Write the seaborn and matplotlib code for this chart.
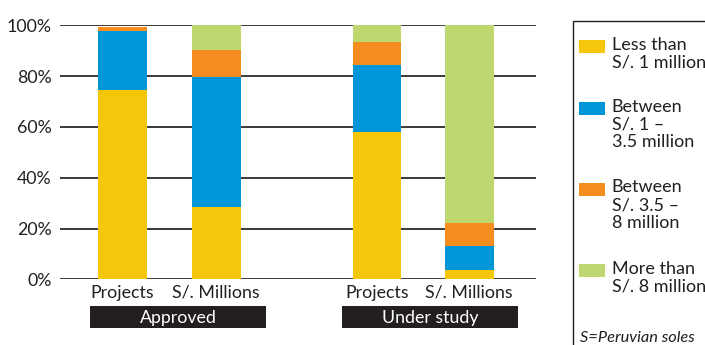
import numpy as np
import pandas as pd
import matplotlib
matplotlib.use("Agg")
import matplotlib.pyplot as plt
from matplotlib.patches import Rectangle
import seaborn as sns

# Share of each size band (percent), per bar
bar_labels = ["Projects", "S/. Millions", "Projects", "S/. Millions"]
group_labels = ["Approved", "Under study"]
less_1m = [74.5, 28.5, 58.0, 3.7]
between_1_35m = [23.3, 51.1, 26.4, 9.4]
between_35_8m = [1.6, 10.7, 9.0, 9.2]
more_8m = [0.0, 9.7, 6.6, 77.7]

band_names = ["Less than\nS/. 1 million",
              "Between\nS/. 1 –\n3.5 million",
              "Between\nS/. 3.5 –\n8 million",
              "More than\nS/. 8 million"]
band_colors = ["#F5C70A", "#0096D8", "#F48C20", "#BED76E"]
y_ticks = [0, 20, 40, 60, 80, 100]

# bar positions: two pairs with a wider gap between groups
x_pos = [0.0, 1.0, 2.71, 3.69]

TEXT = "#231f20"
FONT = "Lato"

sns.set_theme(style="white")
plt.rcParams["font.family"] = [FONT, "DejaVu Sans"]

W, H = 705, 345
fig = plt.figure(figsize=(W / 100, H / 100), dpi=100)

def fx(px):
    return px / W

def fy(py):
    return 1 - py / H

ax = fig.add_axes([fx(60), fy(279.3), fx(536 - 60), (279.3 - 25.3) / H])

bands = [less_1m, between_1_35m, between_35_8m, more_8m]
cum = np.cumsum(np.array(bands), axis=0)

# stacked bars: draw cumulative totals from the top band down
for i in range(len(bands) - 1, -1, -1):
    df = pd.DataFrame({"x": x_pos, "y": cum[i]})
    sns.barplot(data=df, x="x", y="y", native_scale=True, color=band_colors[i],
                saturation=1, width=0.53, ax=ax, zorder=3, linewidth=0,
                errorbar=None)

for t in y_ticks:
    ax.axhline(t, color="#2b2b2b", lw=1.3, zorder=1)

ax.set_xlim(-0.66, 4.40)
ax.set_ylim(0, 100)
for s in ax.spines.values():
    s.set_visible(False)
ax.set_yticks(y_ticks)
ax.set_yticklabels([f"{t}%" for t in y_ticks], fontsize=12.8, color=TEXT)
ax.set_xticks(x_pos)
ax.set_xticklabels(bar_labels, fontsize=12.8, color=TEXT)
ax.tick_params(axis="both", length=0, pad=4)
ax.tick_params(axis="y", pad=6)
ax.set_xlabel("")
ax.set_ylabel("")

# group label boxes under each pair of bars
for (x0, x1), lab in zip([(90, 266), (342, 518)], group_labels):
    fig.add_artist(Rectangle((fx(x0), fy(328)), fx(x1 - x0), (328 - 306) / H,
                             transform=fig.transFigure, facecolor="#231f20",
                             edgecolor="none"))
    fig.text(fx((x0 + x1) / 2), fy(317.5), lab, ha="center", va="center",
             color="white", fontsize=12.8)

# legend panel
fig.add_artist(Rectangle((fx(572.5), fy(360)), fx(200), (360 - 20.5) / H,
                         transform=fig.transFigure, facecolor="none",
                         edgecolor="#231f20", lw=1.0, clip_on=False))
for (py, name, col) in zip([40, 102, 183, 264], band_names, band_colors):
    fig.add_artist(Rectangle((fx(579), fy(py + 13)), fx(26), 13 / H,
                             transform=fig.transFigure, facecolor=col,
                             edgecolor="none"))
    fig.text(fx(611.5), fy(py - 3.5), name, ha="left", va="top",
             color=TEXT, fontsize=13, linespacing=1.12)
fig.text(fx(580), fy(338), "S=Peruvian soles", ha="left", va="center",
         color=TEXT, fontsize=11.8, style="italic")

fig.savefig("out.png", dpi=100)
